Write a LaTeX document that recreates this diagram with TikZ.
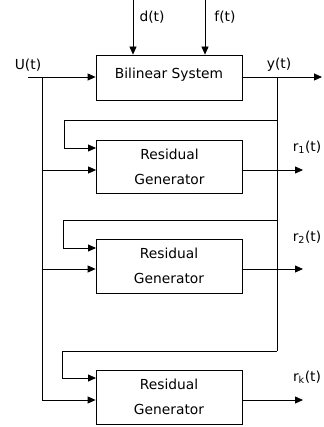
\documentclass[tikz,border=0pt]{standalone}
\usepackage{fontspec}
\setmainfont{DejaVu Sans}
\usetikzlibrary{arrows.meta}
\begin{document}
\begin{tikzpicture}[x=1pt,y=-1pt,
  font=\fontsize{13.8}{25}\selectfont,
  line width=0.8pt,
  >={Triangle[length=8pt,width=7pt]},
  blk/.style={draw, minimum width=146pt, inner sep=0pt, align=center},
  lbl/.style={inner sep=0pt}]
\useasboundingbox (0,0) rectangle (323,427);
% blocks
\node[blk, minimum height=45pt, text depth=8pt] (bs) at (169,77.5) {Bilinear System};
\node[blk, minimum height=53pt] (g1) at (169.5,166.5) {Residual\\Generator};
\node[blk, minimum height=54pt] (g2) at (169,266) {Residual\\Generator};
\node[blk, minimum height=54pt] (g3) at (169,397) {Residual\\Generator};
% labels
\node[lbl] (ld) at (152,17) {d(t)};
\node[lbl] (lf) at (225,17) {f(t)};
\node[lbl] (lu) at (28,65) {U(t)};
\node[lbl] (ly) at (279,65) {y(t)};
\node[lbl] (lr1) at (307,147) {r\textsubscript{1}(t)};
\node[lbl] (lr2) at (307,237) {r\textsubscript{2}(t)};
\node[lbl] (lrk) at (307,377) {r\textsubscript{k}(t)};
% coordinates
\coordinate (d0) at (133,0);
\coordinate (f0) at (205,0);
\coordinate (u0) at (28,77);
\coordinate (uj) at (42,77);
\coordinate (u1) at (42,170);
\coordinate (u2) at (42,269);
\coordinate (u3) at (42,400);
\coordinate (yj) at (277,77);
\coordinate (yo) at (322,77);
\coordinate (y1) at (277,120);
\coordinate (y2) at (277,220);
\coordinate (y3) at (277,351);
\coordinate (k1) at (64,120);
\coordinate (k2) at (63,220);
\coordinate (k3) at (62,351);
\coordinate (a1) at (96,148);
\coordinate (a2) at (96,248);
\coordinate (a3) at (96,378);
\coordinate (o1) at (303,170);
\coordinate (o2) at (303,269);
\coordinate (o3) at (303,400);
% inputs
\draw[->] (d0) -- (d0 |- bs.north);
\draw[->] (f0) -- (f0 |- bs.north);
\draw[->] (u0) -- (u0 -| bs.west);
\draw (uj) -- (u3);
\draw[->] (u1) -- (u1 -| g1.west);
\draw[->] (u2) -- (u2 -| g2.west);
\draw[->] (u3) -- (u3 -| g3.west);
% output
\draw[->] (yo -| bs.east) -- (yo);
\draw (yj) -- (y3);
\draw[->] (y1) -- (k1) |- (a1);
\draw[->] (y2) -- (k2) |- (a2);
\draw[->] (y3) -- (k3) |- (a3);
% residual outputs
\draw[->] (o1 -| g1.east) -- (o1);
\draw[->] (o2 -| g2.east) -- (o2);
\draw[->] (o3 -| g3.east) -- (o3);
\end{tikzpicture}
\end{document}
